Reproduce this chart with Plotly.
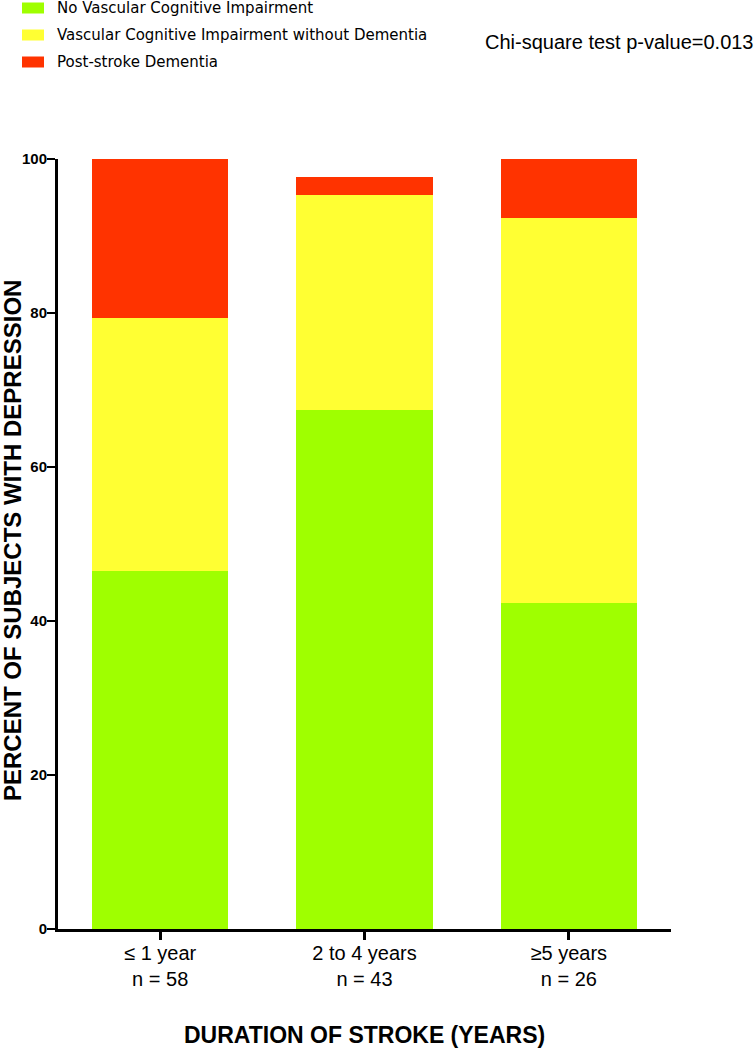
import plotly.graph_objects as go

categories = ["≤ 1 year<br>n = 58", "2 to 4 years<br>n = 43", "≥5 years<br>n = 26"]
no_vci = [46.55, 67.44, 42.31]
vci_no_dementia = [32.76, 27.91, 50.0]
post_stroke_dementia = [20.69, 2.33, 7.69]

series_names = ["No Vascular Cognitive Impairment",
                "Vascular Cognitive Impairment without Dementia",
                "Post-stroke Dementia"]
colors = ["#9FFF00", "#FFFF33", "#FF3300"]

W, H = 755, 1050
L, R, T, B = 58, 84, 159, 121
PW, PH = W - L - R, H - T - B

def px_x(x):  # pixel -> paper x
    return (x - L) / PW

def px_y(y):  # pixel -> paper y
    return 1 + (T - y) / PH

fig = go.Figure()
for name, vals, col in zip(series_names, [no_vci, vci_no_dementia, post_stroke_dementia], colors):
    fig.add_trace(go.Bar(
                  x = categories,
                  y = vals,
                  name = name,
                  marker = dict(color = col, line = dict(width = 0)),
                  width = 0.667,
                  showlegend = False))

# legend drawn by hand so it can sit right at the top edge
shapes = []
annotations = []
for i, (name, col) in enumerate(zip(series_names, colors)):
    cy = 8 + 27 * i
    shapes.append(dict(type = "rect", xref = "paper", yref = "paper",
                       x0 = px_x(22), x1 = px_x(44), y0 = px_y(cy + 5.5), y1 = px_y(cy - 5.5),
                       fillcolor = col, line = dict(width = 0)))
    annotations.append(dict(text = name, xref = "paper", yref = "paper",
                            x = px_x(55), y = px_y(cy), xanchor = "left", yanchor = "middle",
                            showarrow = False,
                            font = dict(family = "DejaVu Sans", size = 15)))

annotations.append(dict(text = "Chi-square test p-value=0.013",
                        xref = "paper", yref = "paper",
                        x = px_x(756), y = px_y(42), xanchor = "right", yanchor = "middle",
                        showarrow = False, font = dict(size = 20)))
annotations.append(dict(text = "<b>DURATION OF STROKE (YEARS)</b>",
                        xref = "paper", yref = "paper",
                        x = 0.5, y = px_y(1035), xanchor = "center", yanchor = "middle",
                        showarrow = False, font = dict(size = 23)))
annotations.append(dict(text = "<b>PERCENT OF SUBJECTS WITH DEPRESSION</b>",
                        xref = "paper", yref = "paper", textangle = -90,
                        x = px_x(12), y = px_y(541), xanchor = "center", yanchor = "middle",
                        showarrow = False, font = dict(size = 24)))

fig.update_layout(barmode = "stack",
                  width = W, height = H,
                  plot_bgcolor = "white", paper_bgcolor = "white",
                  margin = dict(l = L, r = R, t = T, b = B, autoexpand = False),
                  font = dict(family = "Liberation Sans, Arial", color = "black"),
                  showlegend = False,
                  shapes = shapes,
                  annotations = annotations)

fig.update_xaxes(range = [-0.5, 2.5],
                 showline = True, linecolor = "black", linewidth = 3,
                 ticks = "outside", ticklen = 8, tickwidth = 3, tickcolor = "black",
                 tickfont = dict(size = 20), ticklabelstandoff = -4,
                 showgrid = False, zeroline = False)

fig.update_yaxes(range = [0, 100], tickvals = [0, 20, 40, 60, 80, 100],
                 showline = True, linecolor = "black", linewidth = 3,
                 ticks = "outside", ticklen = 8, tickwidth = 2, tickcolor = "black",
                 tickfont = dict(size = 15, weight = "bold"), ticklabelstandoff = -3,
                 showgrid = False, zeroline = False)

# drop the default body margin so the figure sits at the page corner
fig.write_html("out.html", config = {"displayModeBar": False},
               post_script = "document.body.style.margin = '0';")
